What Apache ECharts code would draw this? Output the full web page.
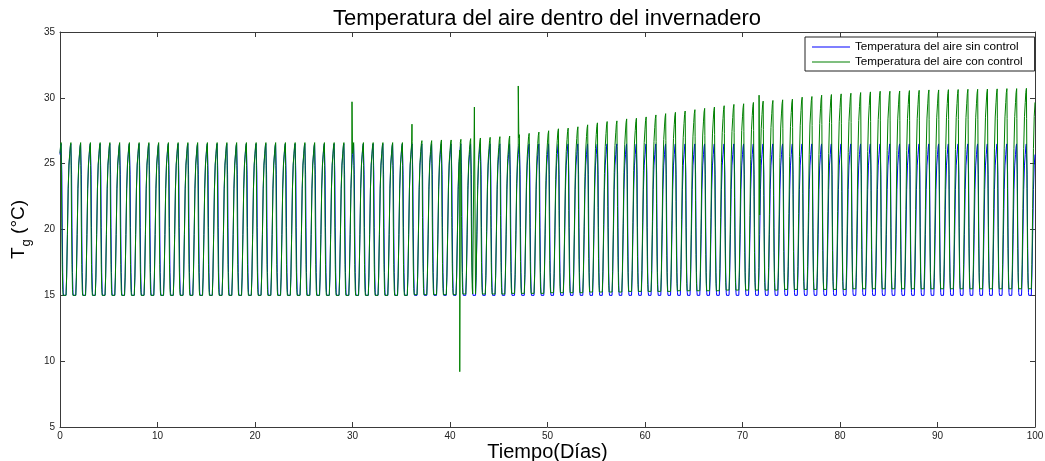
<!DOCTYPE html>
<html>
<head>
<meta charset="utf-8">
<script src="https://cdn.jsdelivr.net/npm/echarts@6/dist/echarts.min.js"></script>
<style>
html,body{margin:0;padding:0;background:#fff;}
#chart{width:1045px;height:461px;}
</style>
</head>
<body>
<div id="chart"></div>
<script>
// ---- Data (daily extremes, °C) ----
const titleText = 'Temperatura del aire dentro del invernadero';
const xName = 'Tiempo(Días)';
const seriesNames = ['Temperatura del aire sin control', 'Temperatura del aire con control'];
const xTicks = [0, 10, 20, 30, 40, 50, 60, 70, 80, 90, 100];
const yTicks = [5, 10, 15, 20, 25, 30, 35];

// Daily maximum, controlled greenhouse (green), days 0..99
const greenMax = [
  26.6,26.6,26.6,26.6,26.6,26.6,26.6,26.6,26.6,26.6,
  26.6,26.6,26.6,26.6,26.6,26.6,26.6,26.6,26.6,26.6,
  26.6,26.6,26.6,26.6,26.6,26.6,26.6,26.6,26.6,26.6,
  26.6,26.6,26.6,26.6,26.6,26.6,26.7,26.75,26.75,26.8,
  26.8,26.85,26.9,26.95,27.0,27.05,27.1,27.2,27.3,27.4,
  27.5,27.65,27.7,27.8,27.95,28.1,28.2,28.25,28.4,28.45,
  28.55,28.7,28.8,28.9,29.0,29.1,29.2,29.3,29.4,29.5,
  29.55,29.65,29.75,29.8,29.85,29.9,30.05,30.1,30.2,30.25,
  30.3,30.35,30.4,30.45,30.5,30.5,30.52,30.55,30.57,30.6,
  30.6,30.62,30.63,30.65,30.65,30.67,30.68,30.7,30.7,30.72
];
// Daily minimum, controlled greenhouse (green)
const greenMin = [
  15,15,15,15,15,15,15,15,15,15,
  15,15,15,15,15,15,15,15,15,15,
  15,15,15,15,15,15,15,15,15,15,
  15,15,15,15,15,15,15.05,15.05,15.05,15.05,
  15.05,15.1,15.1,15.1,15.1,15.1,15.15,15.15,15.15,15.15,
  15.2,15.2,15.2,15.2,15.25,15.25,15.25,15.25,15.3,15.3,
  15.3,15.3,15.3,15.35,15.35,15.35,15.35,15.35,15.4,15.4,
  15.4,15.4,15.4,15.4,15.45,15.45,15.45,15.45,15.45,15.45,
  15.45,15.5,15.5,15.5,15.5,15.5,15.5,15.5,15.5,15.5,
  15.5,15.5,15.5,15.5,15.5,15.5,15.5,15.5,15.5,15.5
];
// Uncontrolled greenhouse (blue): daily max / min
const blueMax = new Array(100).fill(26.5);
const blueMin = new Array(100).fill(15);
// Isolated spikes in the controlled series [day, °C]
const greenSpikes = [[29.95, 29.7], [36.1, 28.0], [41.0, 9.2], [42.5, 29.3], [47.0, 30.9], [71.7, 30.2]];

// Intra-day profile templates: [fraction of day, fraction of daily amplitude]
const greenShape = [[0.00,0.93],[0.06,0.98],[0.12,1.0],[0.14,0.85],[0.18,0.50],[0.23,0.20],[0.28,0.04],[0.32,0.0],[0.62,0.0],[0.68,0.12],[0.76,0.40],[0.84,0.70],[0.92,0.86]];
const blueShape  = [[0.00,0.93],[0.06,0.98],[0.11,1.0],[0.17,1.0],[0.19,0.80],[0.23,0.45],[0.28,0.15],[0.33,0.02],[0.36,0.0],[0.62,0.0],[0.68,0.12],[0.76,0.40],[0.84,0.70],[0.92,0.86]];

function buildSeries(maxArr, minArr, shape, spikes) {
  const pts = [];
  for (let d = 0; d < maxArr.length; d++) {
    for (const [f, a] of shape) {
      pts.push([d + f, minArr[d] + a * (maxArr[d] - minArr[d])]);
    }
  }
  const last = maxArr.length - 1;
  pts.push([maxArr.length, minArr[last] + shape[0][1] * (maxArr[last] - minArr[last])]);
  if (spikes) {
    for (const s of spikes) pts.push([s[0], s[1]]);
    pts.sort((p, q) => p[0] - q[0]);
  }
  return pts;
}

const blueData = buildSeries(blueMax, blueMin, blueShape, null);
const greenData = buildSeries(greenMax, greenMin, greenShape, greenSpikes);

const FONT = "'Liberation Sans', Arial, sans-serif";
const axisColor = '#3a3a3a';

const chart = echarts.init(document.getElementById('chart'), null, {renderer: 'canvas'});

function xAx(pos, showLabel) {
  return {
    type: 'value', position: pos, min: xTicks[0], max: xTicks[xTicks.length - 1], interval: 10,
    name: showLabel ? xName : '', nameLocation: 'middle', nameGap: 15, nameMoveOverlap: false,
    nameTextStyle: {fontFamily: FONT, fontSize: 20, color: '#000', verticalAlign: 'top'},
    axisLine: {show: true, onZero: false, lineStyle: {color: axisColor, width: 1}},
    axisTick: {show: true, inside: true, length: 5, lineStyle: {color: axisColor}},
    axisLabel: {show: showLabel, fontFamily: FONT, fontSize: 10, color: '#222', margin: 4},
    splitLine: {show: false}
  };
}
function yAx(pos, showLabel) {
  return {
    type: 'value', position: pos, min: yTicks[0], max: yTicks[yTicks.length - 1], interval: 5,
    name: showLabel ? '{t|T}{s|g}{t| (°C)}' : '', nameLocation: 'middle', nameGap: 27, nameRotate: 90,
    nameMoveOverlap: false,
    nameTextStyle: {
      fontFamily: FONT, color: '#000',
      rich: {
        t: {fontFamily: FONT, fontSize: 19, color: '#000', lineHeight: 28, verticalAlign: 'middle'},
        s: {fontFamily: FONT, fontSize: 13, color: '#000', lineHeight: 13, verticalAlign: 'bottom', padding: [0, 0, 0, 1]}
      }
    },
    axisLine: {show: true, onZero: false, lineStyle: {color: axisColor, width: 1}},
    axisTick: {show: true, inside: true, length: 5, lineStyle: {color: axisColor}},
    axisLabel: {show: showLabel, fontFamily: FONT, fontSize: 10, color: '#222', margin: 5},
    splitLine: {show: false}
  };
}

chart.setOption({
  animation: false,
  backgroundColor: '#fff',
  title: {
    text: titleText, left: 542, top: 3, textAlign: 'center',
    textStyle: {fontFamily: FONT, fontSize: 22, fontWeight: 'normal', color: '#000'}
  },
  grid: {left: 60, right: 10, top: 32, bottom: 34, containLabel: false, outerBoundsMode: 'none'},
  xAxis: [xAx('bottom', true), xAx('top', false)],
  yAxis: [yAx('left', true), yAx('right', false)],
  legend: {
    orient: 'vertical', left: 805, top: 37,
    data: seriesNames,
    icon: 'rect', itemWidth: 38, itemHeight: 1, itemGap: 3,
    padding: [4, 12, 3, 7],
    borderColor: '#222', borderWidth: 1, backgroundColor: '#fff',
    textStyle: {fontFamily: FONT, fontSize: 11.7, color: '#000'}
  },
  series: [
    {
      name: seriesNames[0], type: 'line', xAxisIndex: 0, yAxisIndex: 0,
      data: blueData, showSymbol: false, symbol: 'none',
      lineStyle: {color: '#0000ff', width: 1}, itemStyle: {color: '#0000ff'},
      z: 2
    },
    {
      name: seriesNames[1], type: 'line', xAxisIndex: 0, yAxisIndex: 0,
      data: greenData, showSymbol: false, symbol: 'none',
      lineStyle: {color: '#008000', width: 1}, itemStyle: {color: '#008000'},
      z: 3
    }
  ]
});
</script>
</body>
</html>
